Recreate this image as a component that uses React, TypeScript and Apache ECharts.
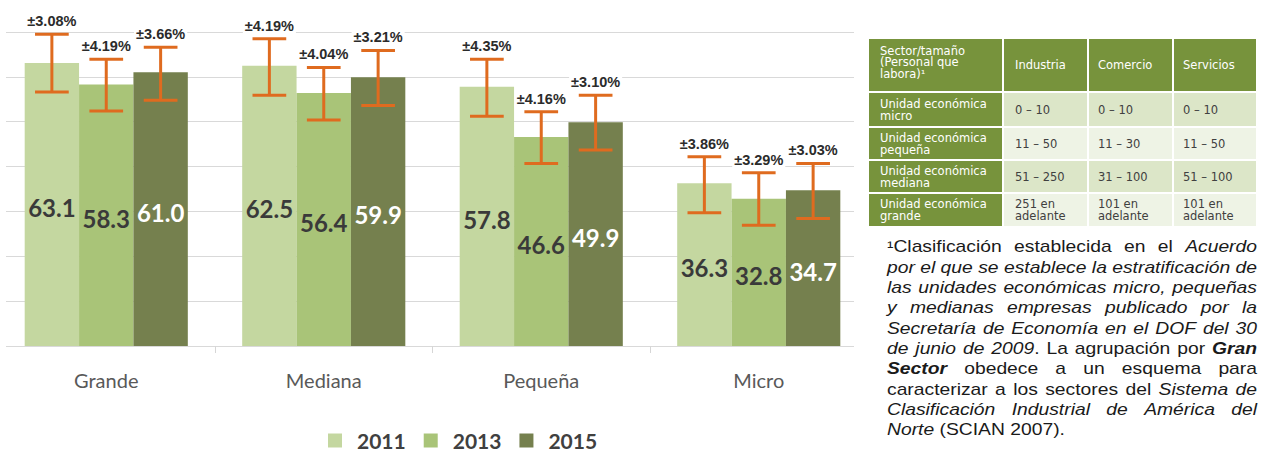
import React, { useEffect, useRef } from 'react';
import * as echarts from 'echarts';

const categories = ['Grande', 'Mediana', 'Pequeña', 'Micro'];
const years = ['2011', '2013', '2015'];
const values2011 = [63.1, 62.5, 57.8, 36.3];
const values2013 = [58.3, 56.4, 46.6, 32.8];
const values2015 = [61.0, 59.9, 49.9, 34.7];
const errLow2011 = [56.6, 55.9, 51.2, 29.7];
const errHigh2011 = [69.5, 68.5, 63.9, 42.2];
const errLow2013 = [52.4, 50.4, 40.7, 26.9];
const errHigh2013 = [63.9, 62.1, 52.2, 38.6];
const errLow2015 = [54.8, 53.6, 43.7, 28.4];
const errHigh2015 = [66.6, 65.9, 55.9, 40.7];
const errLabels2011 = ['±3.08%', '±4.19%', '±4.35%', '±3.86%'];
const errLabels2013 = ['±4.19%', '±4.04%', '±4.16%', '±3.29%'];
const errLabels2015 = ['±3.66%', '±3.21%', '±3.10%', '±3.03%'];
const axisMin = 0;
const axisMax = 70;
const axisStep = 10;

const tableHeader = ['Sector/tamaño\n(Personal que\nlabora)¹', 'Industria', 'Comercio', 'Servicios'];
const tableRows = [
  ['Unidad económica\nmicro', '0 – 10', '0 – 10', '0 – 10'],
  ['Unidad económica\npequeña', '11 – 50', '11 – 30', '11 – 50'],
  ['Unidad económica\nmediana', '51 – 250', '31 – 100', '51 – 100'],
  ['Unidad económica\ngrande', '251 en\nadelante', '101 en\nadelante', '101 en\nadelante'],
];

const footnoteLines: [string, string][][] = [
  [['¹', 'n'], ['Clasificación establecida en el ', 'n'], ['Acuerdo', 'i']],
  [['por el que se establece la estratificación de', 'i']],
  [['las unidades económicas micro, pequeñas', 'i']],
  [['y medianas empresas publicado por la', 'i']],
  [['Secretaría de Economía en el DOF del 30', 'i']],
  [['de junio de 2009', 'i'], ['. La agrupación por ', 'n'], ['Gran', 'bi']],
  [['Sector', 'bi'], [' obedece a un esquema para', 'n']],
  [['caracterizar a los sectores del ', 'n'], ['Sistema de', 'i']],
  [['Clasificación Industrial de América del', 'i']],
  [['Norte', 'i'], [' (SCIAN 2007).', 'n']],
];

const barColors = ['#c4d7a0', '#a9c478', '#75804e'];
const labelColors = ['#3a3a3a', '#3a3a3a', '#ffffff'];
const errColor = '#df6b1f';

export default function App() {
  const ref = useRef<HTMLDivElement>(null);
  useEffect(() => {
    const chart = echarts.init(ref.current!, null, { renderer: 'svg' });
    const values = [values2011, values2013, values2015];
    const lows = [errLow2011, errLow2013, errLow2015];
    const highs = [errHigh2011, errHigh2013, errHigh2015];
    const errLabels = [errLabels2011, errLabels2013, errLabels2015];
    const catGap = 0.25;

    const barSeries = years.map((y, k) => ({
      type: 'bar',
      name: y,
      xAxisIndex: 0,
      yAxisIndex: 0,
      data: values[k],
      barGap: '0%',
      barCategoryGap: '25%',
      itemStyle: { color: barColors[k] },
      z: 2,
      label: {
        show: true,
        position: 'inside',
        offset: [0, 3],
        formatter: (p: any) => Number(p.value).toFixed(1),
        fontFamily: 'Lato',
        fontWeight: 'bold',
        fontSize: 24,
        color: labelColors[k],
      },
    }));

    const errSeries = years.map((y, k) => ({
      type: 'custom',
      name: 'err' + y,
      xAxisIndex: 0,
      yAxisIndex: 0,
      z: 4,
      clip: false,
      data: categories.map((c, i) => [i, lows[k][i], highs[k][i]]),
      encode: { x: 0, y: [1, 2] },
      renderItem: (params: any, api: any) => {
        const cat = api.value(0);
        const lo = api.value(1);
        const hi = api.value(2);
        const pLo = api.coord([cat, lo]);
        const pHi = api.coord([cat, hi]);
        const bandW = api.size([1, 0])[0];
        const barW = (bandW * (1 - catGap)) / 3;
        const x = pLo[0] + (k - 1) * barW;
        const cap = barW * 0.31;
        const st = { stroke: errColor, lineWidth: 3 };
        return {
          type: 'group',
          children: [
            { type: 'line', shape: { x1: x, y1: pHi[1], x2: x, y2: pLo[1] }, style: st },
            { type: 'line', shape: { x1: x - cap, y1: pHi[1], x2: x + cap, y2: pHi[1] }, style: st },
            { type: 'line', shape: { x1: x - cap, y1: pLo[1], x2: x + cap, y2: pLo[1] }, style: st },
            {
              type: 'text',
              x: x,
              y: pHi[1] - 13,
              style: {
                text: errLabels[k][params.dataIndex],
                fontFamily: 'Liberation Sans',
                fontWeight: 'bold',
                fontSize: 14.5,
                fill: '#2b2b2b',
                align: 'center',
                verticalAlign: 'middle',
                backgroundColor: '#ffffff',
                padding: [2, 2, 1, 2],
              },
            },
          ],
        };
      },
    }));

    // Table
    const colEdges = [868, 1003, 1088, 1173, 1257];
    const rowEdges = [38, 92, 127, 160, 193, 227];
    const allRows = [tableHeader, ...tableRows];
    const tableEls: any[] = [];
    allRows.forEach((row, r) => {
      row.forEach((txt, c) => {
        const isHead = r === 0 || c === 0;
        const fill = isHead ? '#77933c' : r % 2 === 1 ? '#dce6c8' : '#eef3e5';
        tableEls.push({
          type: 'rect',
          shape: {
            x: colEdges[c] + 1,
            y: rowEdges[r] + 1,
            width: colEdges[c + 1] - colEdges[c] - 2,
            height: rowEdges[r + 1] - rowEdges[r] - 2,
          },
          style: { fill },
        });
        tableEls.push({
          type: 'text',
          x: colEdges[c] + (c === 0 ? 12 : c === 1 ? 12 : 10),
          y: r === 0 && c === 0 ? 62 : (rowEdges[r] + rowEdges[r + 1]) / 2,
          style: {
            text: txt,
            fontFamily: 'DejaVu Sans',
            fontSize: 11.5,
            lineHeight: r === 0 ? 11.5 : 12,
            fill: isHead ? '#ffffff' : '#404040',
            align: 'left',
            verticalAlign: 'middle',
          },
        });
      });
    });

    // Footnote (justified)
    const canvas = document.createElement('canvas');
    const ctx = canvas.getContext('2d')!;
    const fam = '"Liberation Sans", Arial, sans-serif';
    const fsz = 16;
    const fontFor = (st: string) =>
      `${st.includes('i') ? 'italic ' : ''}${st.includes('b') ? 'bold ' : ''}${fsz}px ${fam}`;
    const measure = (t: string, st: string) => {
      ctx.font = fontFor(st);
      return ctx.measureText(t).width;
    };
    const spaceW = measure(' ', 'n');
    type Run = { text: string; st: string; w: number };
    const lineWords: Run[][][] = footnoteLines.map((line) => {
      const words: Run[][] = [];
      let cur: Run[] = [];
      line.forEach(([text, st]) => {
        text.split(' ').forEach((p, idx) => {
          if (idx > 0) {
            if (cur.length) words.push(cur);
            cur = [];
          }
          if (p) cur.push({ text: p, st, w: measure(p, st) });
        });
      });
      if (cur.length) words.push(cur);
      return words;
    });
    const fx0 = 887;
    const fW = 370;
    const wordW = (w: Run[]) => w.reduce((a, r) => a + r.w, 0);
    let s = 10;
    lineWords.forEach((words, li) => {
      if (li === lineWords.length - 1) return;
      const nat = words.reduce((a, w) => a + wordW(w), 0) + (words.length - 1) * spaceW;
      s = Math.min(s, fW / nat);
    });
    const footEls: any[] = [];
    lineWords.forEach((words, li) => {
      const y = 247 + li * 20.3;
      const sum = words.reduce((a, w) => a + wordW(w), 0) * s;
      const last = li === lineWords.length - 1;
      const gap = last ? spaceW * s : (fW - sum) / (words.length - 1);
      let x = fx0;
      words.forEach((w) => {
        w.forEach((r) => {
          footEls.push({
            type: 'text',
            x,
            y,
            scaleX: s,
            style: {
              text: r.text,
              fontFamily: fam,
              fontSize: fsz,
              fontStyle: r.st.includes('i') ? 'italic' : 'normal',
              fontWeight: r.st.includes('b') ? 'bold' : 'normal',
              fill: '#1a1a1a',
              align: 'left',
              verticalAlign: 'middle',
            },
          });
          x += r.w * s;
        });
        x += gap;
      });
    });

    const option: any = {
      animation: false,
      backgroundColor: '#ffffff',
      grid: [
        { left: -2.5, top: 32, width: 870, height: 314, outerBoundsMode: 'none', containLabel: false },
        { left: 6, top: 32, width: 848, height: 314, outerBoundsMode: 'none', containLabel: false },
        { left: -2.5, top: 32, width: 870, height: 314, outerBoundsMode: 'none', containLabel: false },
      ],
      xAxis: [
        {
          type: 'category',
          gridIndex: 0,
          data: categories,
          axisLine: { show: false },
          axisTick: { show: false },
          axisLabel: { fontFamily: 'Lato', fontSize: 20, color: '#595959', margin: 24 },
          splitLine: { show: false },
        },
        { type: 'value', gridIndex: 1, show: false, min: 0, max: 1 },
        {
          type: 'value',
          gridIndex: 2,
          min: 0,
          max: categories.length,
          interval: 1,
          axisLine: { show: false },
          axisLabel: { show: false },
          splitLine: { show: false },
          axisTick: { show: true, length: 7, customValues: [1, 2, 3], lineStyle: { color: '#d6d6d6', width: 1 } },
        },
      ],
      yAxis: [
        { type: 'value', gridIndex: 0, min: axisMin, max: axisMax, interval: axisStep, show: false },
        {
          type: 'value',
          gridIndex: 1,
          min: axisMin,
          max: axisMax,
          interval: axisStep,
          axisLine: { show: false },
          axisTick: { show: false },
          axisLabel: { show: false },
          splitLine: { show: true, lineStyle: { color: '#d9d9d9', width: 1.2 } },
        },
        { type: 'value', gridIndex: 2, min: axisMin, max: axisMax, show: false },
      ],
      legend: {
        data: years,
        left: 323,
        top: 425,
        icon: 'rect',
        itemWidth: 14,
        itemHeight: 14,
        itemGap: 18,
        formatter: '{g|}{name}',
        textStyle: {
          fontFamily: 'Lato',
          fontWeight: 'bold',
          fontSize: 21,
          color: '#404040',
          rich: {
            g: { width: 10, fontSize: 21, fontFamily: 'Lato' },
          },
        },
      },
      series: [...barSeries, ...errSeries],
      graphic: [...tableEls, ...footEls],
    };
    chart.setOption(option);
    return () => chart.dispose();
  }, []);
  return (
    <div
      ref={ref}
      style={{ position: 'fixed', left: 0, top: 0, width: 1267, height: 454, background: '#fff' }}
    />
  );
}
